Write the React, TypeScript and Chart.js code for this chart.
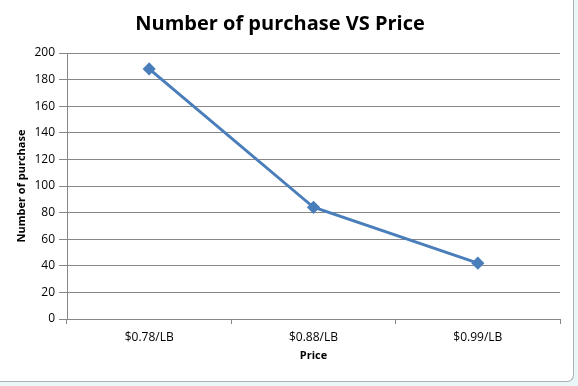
import React, { useEffect, useRef } from "react";
import { Chart, registerables } from "chart.js";

Chart.register(...registerables);

const categories = ["$0.78/LB", "$0.88/LB", "$0.99/LB"];
const purchases = [188, 84, 42];
const yTicks = [0, 20, 40, 60, 80, 100, 120, 140, 160, 180, 200];
const chartTitle = "Number of purchase VS Price";
const xTitle = "Price";
const yTitle = "Number of purchase";

const FONT = "'Open Sans', 'Noto Sans', sans-serif";
const GRID = "#868686";

export default function App() {
  const ref = useRef<HTMLCanvasElement | null>(null);

  useEffect(() => {
    if (!ref.current) return;
    const chart = new Chart(ref.current, {
      type: "line",
      data: {
        labels: categories,
        datasets: [
          {
            label: yTitle,
            data: purchases,
            borderColor: "#4a7ebb",
            backgroundColor: "#4a7ebb",
            borderWidth: 3,
            pointStyle: "rectRot",
            pointRadius: 4.5,
            pointHoverRadius: 4.5,
            tension: 0,
          },
        ],
      },
      options: {
        responsive: false,
        animation: false,
        layout: { padding: { left: 0, right: 12, top: 0, bottom: 0 } },
        plugins: {
          legend: { display: false },
          tooltip: { enabled: false },
          title: {
            display: true,
            text: chartTitle,
            color: "#000",
            font: { family: FONT, size: 20, weight: "bold" },
            padding: { top: 12, bottom: 17 },
          },
        },
        scales: {
          x: {
            type: "category",
            offset: true,
            grid: {
              offset: true,
              drawOnChartArea: false,
              drawTicks: true,
              tickLength: 5,
              color: GRID,
            },
            border: { color: GRID, width: 1 },
            ticks: {
              color: "#000",
              padding: 6,
              font: { family: FONT, size: 12 },
              maxRotation: 0,
            },
            title: {
              display: true,
              text: xTitle,
              color: "#000",
              font: { family: FONT, size: 11, weight: "bold" },
              padding: { top: 4, bottom: 18 },
            },
            afterFit: (s: any) => {
              s.height = 61;
            },
          },
          y: {
            min: 0,
            max: 200,
            afterBuildTicks: (s: any) => {
              s.ticks = yTicks.map((v) => ({ value: v }));
            },
            grid: {
              color: GRID,
              drawTicks: true,
              tickLength: 8,
            },
            border: { color: GRID, width: 1 },
            ticks: {
              color: "#000",
              padding: 4,
              font: { family: FONT, size: 12 },
            },
            title: {
              display: true,
              text: yTitle,
              color: "#000",
              font: { family: FONT, size: 11, weight: "bold" },
              padding: { top: 15, bottom: 0 },
            },
            afterFit: (s: any) => {
              s.width = 67;
            },
          },
        },
      },
    });
    return () => chart.destroy();
  }, []);

  return (
    <div
      style={{
        position: "absolute",
        left: 0,
        top: 0,
        width: 578,
        height: 386,
        background: "#e9f7f8",
      }}
    >
      <div
        style={{
          position: "absolute",
          left: 0,
          top: 0,
          width: 573,
          height: 381,
          background: "#fff",
          borderRight: "1px solid #a9b3b5",
          borderBottom: "1px solid #a9b3b5",
          borderBottomRightRadius: 7,
          overflow: "hidden",
        }}
      >
        <canvas ref={ref} width={572} height={380} style={{ display: "block" }} />
      </div>
    </div>
  );
}
